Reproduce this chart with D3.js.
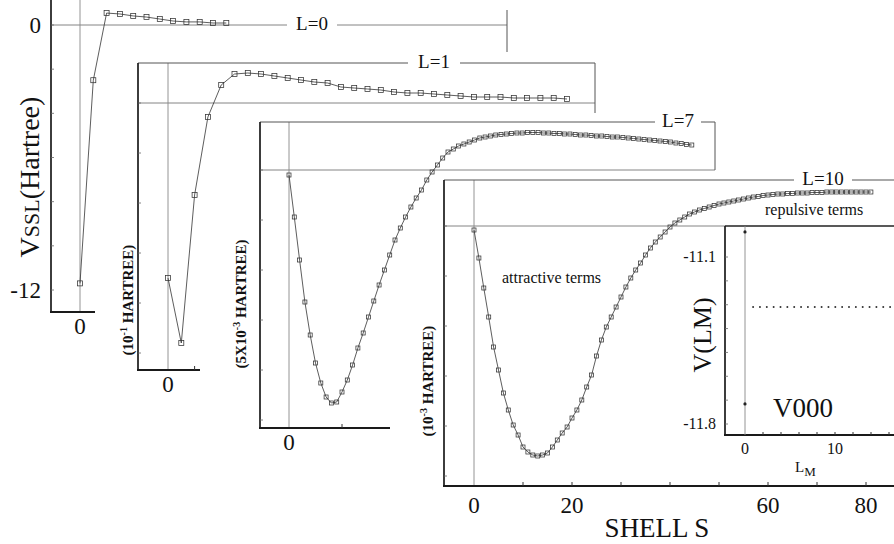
<!DOCTYPE html>
<html>
<head>
<meta charset="utf-8">
<script src="https://cdn.jsdelivr.net/npm/d3@7"></script>
<style>
  body { margin: 0; background: #fff; }
  svg { display: block; }
  text { font-family: "Liberation Serif", "Times New Roman", serif; fill: #111; }
</style>
</head>
<body>
<svg id="chart" width="894" height="544"></svg>
<script>
// values, one per shell S = 0, 1, 2, ...
// (arbitrary units per panel, the y axes have no numbers except L=0)
const vL0 = [-11.7, -2.5, 0.54, 0.5, 0.41, 0.36, 0.27, 0.18, 0.14, 0.14, 0.09, 0.09];

const vL1 = [-17.5, -24.0, -9.2, -1.4, 1.8, 2.9, 3.0, 2.9, 2.7, 2.5,
    2.3, 2.1, 2.0, 1.6, 1.5, 1.4, 1.3, 1.1, 1.0, 1.0,
    0.9, 0.8, 0.7, 0.6, 0.6, 0.6, 0.5, 0.5, 0.5, 0.5, 0.4];

const vL7 = [-0.5, -4.7, -9.0, -13.2, -16.5, -19.3, -21.3, -22.7, -23.3, -23.2,
    -22.2, -21.0, -19.5, -17.8, -16.3, -14.7, -13.1, -11.5, -10.0, -8.5,
    -7.0, -5.8, -4.7, -3.7, -2.8, -2.0, -1.0, -0.2, 0.5, 1.2,
    1.8, 2.1, 2.4, 2.6, 2.8, 3.0, 3.2, 3.3, 3.4, 3.5,
    3.55, 3.6, 3.65, 3.7, 3.7, 3.75, 3.75, 3.75, 3.7, 3.7,
    3.65, 3.65, 3.6, 3.6, 3.55, 3.5, 3.5, 3.45, 3.4, 3.4,
    3.35, 3.3, 3.3, 3.25, 3.2, 3.15, 3.1, 3.05, 3.0, 2.95,
    2.9, 2.85, 2.8, 2.7, 2.65, 2.55, 2.5];

const vL10 = [-0.4, -3.2, -6.2, -9.1, -12.1, -14.4, -16.7, -18.4, -19.9, -20.9,
    -22.1, -22.6, -22.9, -23.0, -22.9, -22.7, -22.1, -21.4, -20.7, -20.1,
    -19.2, -18.4, -17.4, -16.1, -14.9, -13.0, -11.4, -10.1, -9.1, -8.1,
    -7.1, -6.1, -5.2, -4.4, -3.7, -2.9, -2.2, -1.6, -1.1, -0.6,
    -0.1, 0.3, 0.6, 0.9, 1.2, 1.4, 1.6, 1.75, 1.9, 2.05,
    2.2, 2.3, 2.4, 2.5, 2.6, 2.7, 2.8, 2.9, 2.95, 3.05,
    3.1, 3.15, 3.2, 3.2, 3.25, 3.25, 3.3, 3.3, 3.3, 3.35,
    3.35, 3.35, 3.4, 3.4, 3.4, 3.4, 3.4, 3.4, 3.4, 3.4,
    3.4, 3.4];

// inset V(LM)
const lmZeroValues = [-10.995, -11.716];   // the two marks at LM = 0
const lmDotted = [{ lm: 0.9, v: -11.31 }, { lm: 17.5, v: -11.31 }];

// tick labels
const shellTicks = [0, 20, 60, 80];
const shellMinorTicks = [10, 20, 30, 40, 50, 60, 70, 80];
const vTicksL0 = [0, -12];
const lmTicks = [0, 10];
const lmMinorTicks = [2, 4, 6, 8, 10, 12, 14, 16];
const vTicksInset = [-11.1, -11.8];
const vMinorInset = [-11.1, -11.2, -11.3, -11.4, -11.5, -11.6, -11.7, -11.8];

const svg = d3.select("#chart");

// panel layout (pixels) -- each panel is its own little graph, stacked down-right
const panels = [
    { label: "L=0", values: vL0, xDomain: [0, 1], xRange: [80, 93.3], yDomain: [0, -12], yRange: [25, 290],
      left: 51, top: -5, right: 507, bottom: 312, axisEnd: 95, zeroEnd: 507, edge: [10, 52],
      labelOnZero: true, labelX: 312, labelW: 50, mark: 5, tickStep: 2 },
    { label: "L=1", values: vL1, xDomain: [0, 1], xRange: [168, 181.3], yDomain: [0, -10], yRange: [103, 203],
      left: 138, top: 63, right: 595, bottom: 370, axisEnd: 200, zeroEnd: 595, edge: [63, 113],
      labelX: 434, labelW: 52, mark: 5, tickStep: 5, xTicks: [2],
      title: ["(10", "-1", " HARTREE)"], titleX: 133, titleY: 300 },
    { label: "L=7", values: vL7, xDomain: [0, 10], xRange: [289, 342], yDomain: [0, -10], yRange: [170, 270],
      left: 260, top: 122, right: 715, bottom: 428, axisEnd: 390, zeroEnd: 715, edge: [122, 170],
      labelX: 678, labelW: 46, mark: 4, tickStep: 5, xTicks: [10, 20],
      title: ["(5X10", "-3", " HARTREE)"], titleX: 246, titleY: 304 },
    { label: "L=10", values: vL10, xDomain: [0, 10], xRange: [474, 523], yDomain: [0, -10], yRange: [226, 326],
      left: 444, top: 180, right: 900, bottom: 486, axisEnd: 900, zeroEnd: 725, edge: null,
      labelX: 823, labelW: 58, mark: 4, tickStep: 5, xTicks: shellMinorTicks,
      title: ["(10", "-3", " HARTREE)"], titleX: 433, titleY: 381 }
];

function hline(g, x1, x2, y, color, w) {
    g.append("line").attr("x1", x1).attr("x2", x2).attr("y1", y).attr("y2", y)
        .attr("stroke", color).attr("stroke-width", w);
}
function vline(g, x, y1, y2, color, w) {
    g.append("line").attr("x1", x).attr("x2", x).attr("y1", y1).attr("y2", y2)
        .attr("stroke", color).attr("stroke-width", w);
}

panels.forEach(p => {
    const g = svg.append("g");
    const x = d3.scaleLinear().domain(p.xDomain).range(p.xRange);
    const y = d3.scaleLinear().domain(p.yDomain).range(p.yRange);

    // thin reference lines: V = 0 and S = 0
    hline(g, p.left, p.zeroEnd, y(0), "#777", 0.9);
    vline(g, x(0), p.top, p.bottom, "#888", 0.9);

    // frame bits that show in the figure
    if (!p.labelOnZero) hline(g, p.left, p.right, p.top, "#555", 1);
    if (p.edge) vline(g, p.right, p.edge[0], p.edge[1], "#555", 1);
    vline(g, p.left, p.top, p.bottom, "#1a1a1a", 1.7);
    hline(g, p.left - 1, p.axisEnd, p.bottom, "#1a1a1a", 1.9);

    // small inward ticks on the left axis
    const yMin = y.invert(p.bottom), yMax = y.invert(Math.max(p.top, 0));
    const yt = d3.range(Math.ceil(yMin / p.tickStep) * p.tickStep, yMax, p.tickStep);
    g.selectAll(null).data(yt).enter().append("line")
        .attr("x1", p.left).attr("x2", p.left + 3)
        .attr("y1", d => y(d)).attr("y2", d => y(d))
        .attr("stroke", "#666").attr("stroke-width", 0.8);

    // ticks on the bottom axis
    if (p.xTicks) {
        g.selectAll(null).data(p.xTicks.filter(d => x(d) < p.axisEnd)).enter().append("line")
            .attr("x1", d => x(d)).attr("x2", d => x(d))
            .attr("y1", p.bottom).attr("y2", p.bottom - 4)
            .attr("stroke", "#333").attr("stroke-width", 1);
    }

    // panel label sitting on its line
    const labelY = p.labelOnZero ? y(0) : p.top;
    g.append("rect").attr("x", p.labelX - p.labelW / 2).attr("y", labelY - 3)
        .attr("width", p.labelW).attr("height", 6).attr("fill", "#fff");
    g.append("text").attr("x", p.labelX).attr("y", labelY + 5)
        .attr("text-anchor", "middle").attr("font-size", 19).text(p.label);

    // the curve
    const line = d3.line().x((d, i) => x(i)).y(d => y(d));
    g.append("path").datum(p.values).attr("d", line)
        .attr("fill", "none").attr("stroke", "#333").attr("stroke-width", 0.8);
    g.selectAll(null).data(p.values).enter().append("rect")
        .attr("x", (d, i) => x(i) - p.mark / 2).attr("y", d => y(d) - p.mark / 2)
        .attr("width", p.mark).attr("height", p.mark)
        .attr("fill", "none").attr("stroke", "#333").attr("stroke-width", 0.75);

    // "0" under the S = 0 line (the last panel gets the full axis below)
    if (p.label !== "L=10") {
        g.append("text").attr("x", x(0)).attr("y", p.bottom + 22)
            .attr("text-anchor", "middle").attr("font-size", 23).text("0");
    }

    // rotated unit label
    if (p.title) {
        const t = g.append("text")
            .attr("transform", `translate(${p.titleX},${p.titleY}) rotate(-90)`)
            .attr("text-anchor", "middle").attr("font-size", 15).attr("font-weight", "bold");
        t.append("tspan").text(p.title[0]);
        t.append("tspan").attr("dy", -6).attr("font-size", 10).text(p.title[1]);
        t.append("tspan").attr("dy", 6).text(p.title[2]);
    }

    p.x = x; p.y = y;
});

// y tick labels of the first panel
const p0 = panels[0];
svg.selectAll(null).data(vTicksL0).enter().append("text")
    .attr("x", 41).attr("y", d => p0.y(d) + 8)
    .attr("text-anchor", "end").attr("font-size", 23)
    .text(d => d < 0 ? "-" + Math.abs(d) : d);

// big y title VSSL(Hartree)
const yTitle = svg.append("text")
    .attr("transform", "translate(39,177) rotate(-90)")
    .attr("text-anchor", "middle").attr("font-size", 28);
yTitle.append("tspan").text("V");
yTitle.append("tspan").attr("font-size", 22).text("SSL");
yTitle.append("tspan").text("(Hartree)");

// shell axis labels of the last panel
const pL = panels[3];
svg.selectAll(null).data(shellTicks).enter().append("text")
    .attr("x", d => pL.x(d)).attr("y", 513)
    .attr("text-anchor", "middle").attr("font-size", 23).text(d => d);
svg.append("text").attr("x", 657).attr("y", 537)
    .attr("text-anchor", "middle").attr("font-size", 27).text("SHELL S");

svg.append("text").attr("x", 502).attr("y", 283).attr("font-size", 16).text("attractive terms");
svg.append("text").attr("x", 765).attr("y", 215).attr("font-size", 16).text("repulsive terms");

// inset V(LM)
const inset = { left: 725, top: 226, right: 900, bottom: 435 };
const xi = d3.scaleLinear().domain([0, 10]).range([745, 835]);
const yi = d3.scaleLinear().domain([-11.1, -11.8]).range([257, 424]);
const gi = svg.append("g");
gi.append("rect").attr("x", inset.left).attr("y", inset.top)
    .attr("width", inset.right - inset.left).attr("height", inset.bottom - inset.top)
    .attr("fill", "#fff");
hline(gi, inset.left, inset.right, inset.top, "#222", 1.3);
vline(gi, inset.left, inset.top, inset.bottom, "#1a1a1a", 1.7);
hline(gi, inset.left - 1, inset.right, inset.bottom, "#1a1a1a", 1.9);
vline(gi, xi(0), inset.top, inset.bottom, "#888", 0.9);

gi.selectAll(null).data(vMinorInset).enter().append("line")
    .attr("x1", inset.left).attr("x2", inset.left + 3)
    .attr("y1", d => yi(d)).attr("y2", d => yi(d))
    .attr("stroke", "#666").attr("stroke-width", 0.8);
gi.selectAll(null).data(lmMinorTicks).enter().append("line")
    .attr("x1", d => xi(d)).attr("x2", d => xi(d))
    .attr("y1", inset.bottom).attr("y2", inset.bottom - 3)
    .attr("stroke", "#333").attr("stroke-width", 1);

gi.selectAll(null).data(lmZeroValues).enter().append("circle")
    .attr("cx", xi(0)).attr("cy", d => yi(d)).attr("r", 1.6).attr("fill", "#222");
gi.append("path").datum(lmDotted)
    .attr("d", d3.line().x(d => xi(d.lm)).y(d => yi(d.v)))
    .attr("stroke", "#333").attr("stroke-width", 2)
    .attr("stroke-linecap", "round").attr("stroke-dasharray", "0,6.85");

gi.selectAll(null).data(vTicksInset).enter().append("text")
    .attr("x", 716).attr("y", d => yi(d) + 5)
    .attr("text-anchor", "end").attr("font-size", 16).text(d => d);
gi.selectAll(null).data(lmTicks).enter().append("text")
    .attr("x", d => xi(d)).attr("y", 454)
    .attr("text-anchor", "middle").attr("font-size", 16).text(d => d);

const lmLabel = gi.append("text").attr("x", 795).attr("y", 472).attr("font-size", 15);
lmLabel.append("tspan").text("L");
lmLabel.append("tspan").attr("dy", 4).attr("font-size", 13).text("M");

gi.append("text")
    .attr("transform", "translate(711,335) rotate(-90)")
    .attr("text-anchor", "middle").attr("font-size", 26).text("V(LM)");
gi.append("text").attr("x", 773).attr("y", 417).attr("font-size", 27).text("V000");
</script>
</body>
</html>
